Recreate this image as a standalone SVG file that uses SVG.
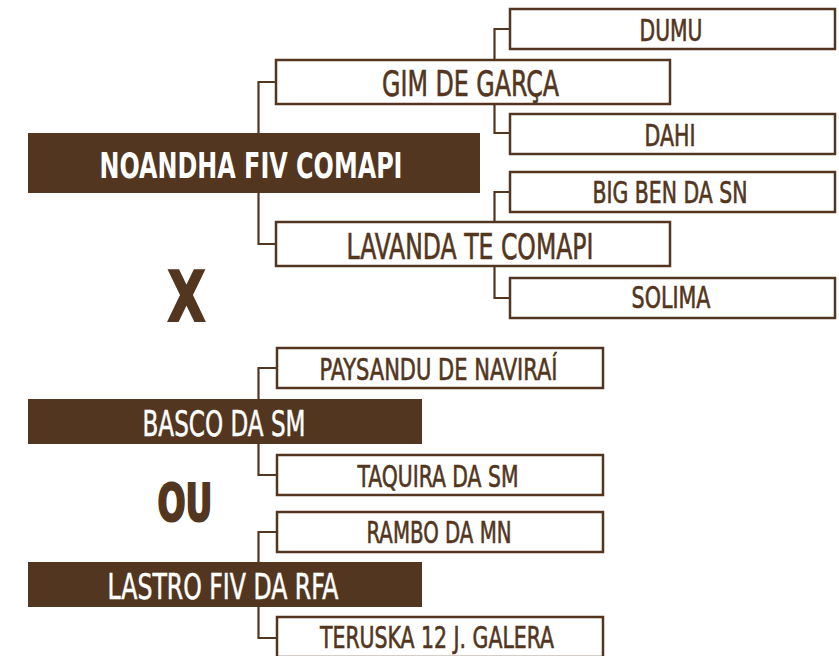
<svg xmlns="http://www.w3.org/2000/svg" width="839" height="656" viewBox="0 0 839 656">
<style>
.box{fill:#fff;stroke:#523620;stroke-width:2.5}
.fill{fill:#523620}
.con{fill:none;stroke:#523620;stroke-width:2.2}
text{font-family:"Liberation Sans Narrow","DejaVu Sans Condensed","Liberation Sans",sans-serif;text-anchor:middle}
.s{font-size:30px;fill:#523620;stroke:#523620;stroke-width:0.6}
.m{font-size:36px;fill:#523620;stroke:#523620;stroke-width:0.6}
.w{font-size:35px;fill:#fff;stroke:#fff;stroke-width:0.5}
.b{font-size:36px;font-weight:bold;fill:#fff}
.big{font-weight:bold;fill:#523620;stroke:#523620;stroke-width:2}
</style>
<rect width="839" height="656" fill="#fff"/>
<g id="connectors">
<path class="con" d="M509,29 H494.5 V59"/>
<path class="con" d="M494.5,105 V133 H509"/>
<path class="con" d="M509,192 H494.5 V221"/>
<path class="con" d="M494.5,267 V298 H509"/>
<path class="con" d="M275,82 H258.5 V133"/>
<path class="con" d="M258.5,193 V244 H275"/>
<path class="con" d="M276,368 H258.5 V399"/>
<path class="con" d="M258.5,444 V475 H276"/>
<path class="con" d="M276,532 H258.5 V562"/>
<path class="con" d="M258.5,607 V638 H276"/>
</g>
<g id="dumu"><rect class="box" x="510" y="9" width="325" height="40"/><text class="s" x="671" y="41" textLength="63" lengthAdjust="spacingAndGlyphs">DUMU</text></g>
<g id="gim"><rect class="box" x="276" y="60" width="394" height="44"/><text class="m" x="470.5" y="95.5" textLength="177" lengthAdjust="spacingAndGlyphs">GIM DE GARÇA</text></g>
<g id="dahi"><rect class="box" x="510" y="114" width="325" height="40"/><text class="s" x="670" y="146" textLength="51" lengthAdjust="spacingAndGlyphs">DAHI</text></g>
<g id="noandha"><rect class="fill" x="28" y="133" width="452" height="60"/><text class="b" x="251" y="178" textLength="303" lengthAdjust="spacingAndGlyphs">NOANDHA FIV COMAPI</text></g>
<g id="bigben"><rect class="box" x="510" y="172" width="325" height="40"/><text class="s" x="670" y="203" textLength="155" lengthAdjust="spacingAndGlyphs">BIG BEN DA SN</text></g>
<g id="lavanda"><rect class="box" x="276" y="222" width="394" height="44"/><text class="m" x="470" y="258.5" textLength="247" lengthAdjust="spacingAndGlyphs">LAVANDA TE COMAPI</text></g>
<g id="solima"><rect class="box" x="510" y="278" width="325" height="40"/><text class="s" x="671" y="308" textLength="79" lengthAdjust="spacingAndGlyphs">SOLIMA</text></g>
<g id="x"><text class="big" x="186.5" y="321" font-size="70" textLength="38" lengthAdjust="spacingAndGlyphs">X</text></g>
<g id="paysandu"><rect class="box" x="277" y="348" width="326" height="40"/><text class="s" x="438.5" y="380" textLength="238" lengthAdjust="spacingAndGlyphs">PAYSANDU DE NAVIRAÍ</text></g>
<g id="basco"><rect class="fill" x="28" y="399" width="394" height="45"/><text class="w" x="224" y="436" textLength="163" lengthAdjust="spacingAndGlyphs">BASCO DA SM</text></g>
<g id="taquira"><rect class="box" x="277" y="455" width="326" height="40"/><text class="s" x="438" y="487" textLength="161" lengthAdjust="spacingAndGlyphs">TAQUIRA DA SM</text></g>
<g id="ou"><text class="big" x="185" y="521" font-size="51" textLength="55" lengthAdjust="spacingAndGlyphs">OU</text></g>
<g id="rambo"><rect class="box" x="277" y="512" width="326" height="40"/><text class="s" x="439" y="542.5" textLength="145" lengthAdjust="spacingAndGlyphs">RAMBO DA MN</text></g>
<g id="lastro"><rect class="fill" x="28" y="562" width="394" height="45"/><text class="w" x="223" y="598.5" textLength="231" lengthAdjust="spacingAndGlyphs">LASTRO FIV DA RFA</text></g>
<g id="teruska"><rect class="box" x="277" y="617" width="326" height="40"/><text class="s" x="437" y="648" textLength="234" lengthAdjust="spacingAndGlyphs">TERUSKA 12 J. GALERA</text></g>
</svg>
